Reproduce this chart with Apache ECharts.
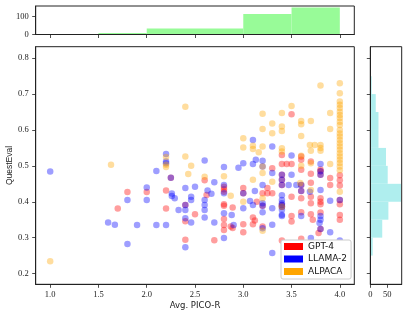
<!DOCTYPE html>
<html>
<head>
<meta charset="utf-8">
<script src="https://cdn.jsdelivr.net/npm/echarts@6.0.0/dist/echarts.min.js"></script>
<style>html,body{margin:0;padding:0;background:#fff;}#c{width:409px;height:322px;}</style>
</head>
<body>
<div id="c"></div>
<script>
// ---- data ----
const seriesNames = ['GPT-4', 'LLAMA-2', 'ALPACA'];
const gpt4 = [[2.25,0.467],[1.8,0.427],[2.0,0.427],[2.2,0.431],[1.7,0.381],[2.2,0.381],[2.4,0.391],[2.4,0.346],[2.4,0.294],[2.5,0.365],[2.6,0.46],[2.62,0.419],[2.7,0.293],[2.8,0.442],[2.8,0.435],[2.8,0.428],[2.8,0.393],[2.8,0.389],[2.8,0.352],[2.8,0.335],[2.8,0.321],[2.89,0.384],[2.87,0.331],[2.89,0.327],[3.0,0.438],[3.0,0.424],[3.0,0.337],[3.0,0.315],[3.1,0.356],[3.12,0.348],[3.1,0.337],[3.14,0.40],[3.2,0.424],[3.2,0.389],[3.2,0.331],[3.25,0.438],[3.25,0.424],[3.3,0.493],[3.3,0.424],[3.5,0.644],[3.4,0.53],[3.6,0.526],[3.6,0.517],[3.7,0.512],[3.4,0.505],[3.45,0.505],[3.5,0.505],[3.6,0.489],[3.8,0.49],[3.8,0.485],[3.8,0.475],[3.7,0.478],[4.0,0.474],[3.4,0.475],[3.4,0.461],[3.4,0.447],[3.6,0.447],[3.7,0.453],[3.9,0.447],[3.9,0.466],[4.0,0.46],[4.0,0.445],[3.6,0.43],[3.5,0.414],[3.4,0.391],[3.4,0.386],[3.6,0.41],[3.7,0.414],[3.8,0.41],[3.8,0.40],[3.8,0.393],[4.0,0.405],[3.6,0.371],[3.7,0.396],[4.0,0.393],[3.5,0.36],[3.5,0.345],[3.7,0.365],[3.72,0.35],[3.8,0.37],[4.0,0.363],[4.0,0.35],[3.8,0.324],[3.78,0.313],[3.4,0.292],[3.6,0.297]];
const llama2 = [[1.0,0.484],[2.2,0.533],[2.2,0.512],[2.2,0.507],[2.1,0.486],[2.25,0.467],[2.4,0.438],[2.0,0.44],[1.8,0.405],[2.0,0.405],[2.26,0.423],[2.26,0.416],[2.29,0.41],[2.33,0.377],[2.4,0.377],[2.4,0.391],[2.4,0.354],[1.6,0.342],[1.67,0.336],[1.9,0.335],[2.1,0.335],[2.2,0.335],[1.8,0.282],[2.4,0.273],[2.46,0.414],[2.46,0.405],[2.46,0.342],[2.5,0.442],[2.6,0.515],[2.6,0.405],[2.6,0.391],[2.6,0.377],[2.6,0.356],[2.63,0.431],[2.67,0.422],[2.7,0.454],[2.7,0.342],[2.8,0.497],[2.8,0.447],[2.8,0.424],[2.8,0.368],[2.8,0.299],[2.88,0.363],[2.9,0.335],[2.95,0.495],[3.0,0.507],[3.0,0.424],[3.0,0.382],[3.07,0.402],[3.1,0.572],[3.1,0.505],[3.12,0.43],[3.1,0.391],[3.13,0.517],[3.2,0.514],[3.2,0.498],[3.2,0.447],[3.2,0.396],[3.2,0.389],[3.2,0.371],[3.2,0.326],[3.3,0.554],[3.3,0.48],[3.3,0.382],[3.3,0.336],[3.3,0.257],[3.5,0.529],[3.8,0.505],[3.8,0.485],[3.8,0.475],[3.5,0.475],[3.4,0.475],[3.4,0.461],[3.4,0.447],[3.47,0.447],[3.55,0.447],[3.6,0.447],[3.8,0.433],[3.69,0.428],[3.4,0.418],[3.4,0.405],[3.4,0.396],[3.4,0.391],[3.4,0.386],[3.9,0.403],[4.0,0.405],[3.4,0.378],[3.4,0.364],[3.4,0.36],[3.6,0.36],[3.8,0.36],[3.8,0.35],[3.79,0.341],[3.8,0.324],[3.9,0.315],[3.7,0.299],[4.0,0.292],[3.6,0.43]];
const alpaca = [[2.4,0.665],[1.63,0.503],[2.2,0.525],[2.2,0.503],[2.2,0.497],[2.4,0.526],[1.0,0.234],[2.46,0.50],[2.43,0.477],[2.6,0.47],[2.8,0.471],[2.87,0.417],[3.0,0.577],[3.0,0.551],[3.0,0.40],[3.1,0.556],[3.1,0.547],[3.1,0.461],[3.16,0.538],[3.2,0.645],[3.2,0.603],[3.2,0.554],[3.2,0.498],[3.2,0.48],[3.2,0.41],[3.2,0.319],[3.3,0.591],[3.3,0.618],[3.3,0.456],[3.5,0.667],[3.4,0.647],[3.4,0.61],[3.4,0.597],[3.4,0.549],[3.4,0.54],[3.4,0.386],[3.6,0.625],[3.6,0.616],[3.6,0.583],[3.6,0.528],[3.6,0.50],[3.59,0.452],[3.7,0.625],[3.7,0.507],[3.69,0.558],[3.74,0.558],[3.8,0.558],[3.7,0.542],[3.8,0.542],[3.8,0.55],[3.8,0.724],[3.9,0.647],[3.9,0.603],[3.9,0.505],[3.7,0.433],[4.0,0.730],[4.0,0.702],[4.0,0.679],[4.0,0.670],[4.0,0.661],[4.0,0.651],[4.0,0.642],[4.0,0.633],[4.0,0.623],[4.0,0.614],[4.0,0.600],[4.0,0.590],[4.0,0.582],[4.0,0.572],[4.0,0.563],[4.0,0.554],[4.0,0.545],[4.0,0.535],[4.0,0.526],[4.0,0.517],[4.0,0.508],[4.0,0.498],[4.0,0.488],[4.0,0.428]];

// marginal histogram of Avg. PICO-R (bin edges and counts)
const topBinEdges = [1.0, 1.5, 2.0, 2.5, 3.0, 3.5, 4.0];
const topCounts = [1, 8, 34, 34, 115, 152];
// marginal histogram of QuestEval
const rightBinEdges = [0.20, 0.25, 0.30, 0.35, 0.40, 0.45, 0.50, 0.55, 0.60, 0.65, 0.70, 0.75];
const rightCounts = [1, 7, 35, 53, 90, 51, 46, 24, 24, 16, 4];

// tick labels
const xTicks = [1.0, 1.5, 2.0, 2.5, 3.0, 3.5, 4.0];
const yTicks = [0.2, 0.3, 0.4, 0.5, 0.6, 0.7, 0.8];
const topYTicks = [0, 100];
const rightXTicks = [0, 50];

// ---- chart ----
const colors = ['#ff0000', '#0000ff', '#ffa500'];
const serifFont = 'Liberation Serif';
const lineColor = '#222';
const tickLabel = {fontFamily: serifFont, fontSize: 8.5, color: '#222'};

const topData = topCounts.map((c, i) => [topBinEdges[i], topBinEdges[i + 1], c]);
const rightData = rightCounts.map((c, i) => [rightBinEdges[i], rightBinEdges[i + 1], c]);

const chart = echarts.init(document.getElementById('c'), null, {renderer: 'canvas'});

function axisBase(extra) {
  return Object.assign({
    type: 'value',
    splitLine: {show: false},
    axisLine: {show: true, onZero: false, lineStyle: {color: lineColor, width: 1}},
    axisTick: {show: true, inside: false, length: 3.5, lineStyle: {color: lineColor, width: 0.8}},
    nameMoveOverlap: false,
    z: 5
  }, extra);
}

const gridBase = {show: true, borderColor: lineColor, borderWidth: 1, backgroundColor: 'transparent',
  containLabel: false, outerBoundsMode: 'none'};

const option = {
  animation: false,
  backgroundColor: '#fff',
  grid: [
    Object.assign({left: 35.7, top: 46.7, width: 318.6, height: 237.6}, gridBase),
    Object.assign({left: 35.7, top: 6, width: 318.6, height: 28.5}, gridBase),
    Object.assign({left: 370.3, top: 46.7, width: 31.4, height: 237.6}, gridBase)
  ],
  xAxis: [
    axisBase({gridIndex: 0, min: 0.85, max: 4.15,
      name: 'Avg. PICO-R', nameLocation: 'middle', nameGap: 17,
      nameTextStyle: {fontFamily: 'DejaVu Sans', fontSize: 8.5, color: '#222'},
      axisTick: {show: true, length: 3.5, customValues: xTicks, lineStyle: {color: lineColor, width: 0.8}},
      axisLabel: Object.assign({customValues: xTicks, margin: 6, formatter: v => Number(v).toFixed(1)}, tickLabel)}),
    axisBase({gridIndex: 1, min: 0.85, max: 4.15,
      axisTick: {show: true, length: 3.5, customValues: xTicks, lineStyle: {color: lineColor, width: 0.8}},
      axisLabel: {show: false}}),
    axisBase({gridIndex: 2, min: 0, max: 92,
      axisTick: {show: true, length: 3.5, customValues: rightXTicks, lineStyle: {color: lineColor, width: 0.8}},
      axisLabel: Object.assign({customValues: rightXTicks, margin: 6, formatter: v => String(Math.round(v))}, tickLabel)})
  ],
  yAxis: [
    axisBase({gridIndex: 0, min: 0.17, max: 0.832,
      name: 'QuestEval', nameLocation: 'middle', nameGap: 22, nameRotate: 90,
      nameTextStyle: {fontFamily: 'Liberation Sans', fontSize: 8.5, color: '#222'},
      axisTick: {show: true, length: 3.5, customValues: yTicks, lineStyle: {color: lineColor, width: 0.8}},
      axisLabel: Object.assign({customValues: yTicks, margin: 7, formatter: v => Number(v).toFixed(1)}, tickLabel)}),
    axisBase({gridIndex: 1, min: 0, max: 160,
      axisTick: {show: true, length: 3.5, customValues: topYTicks, lineStyle: {color: lineColor, width: 0.8}},
      axisLabel: Object.assign({customValues: topYTicks, margin: 7, formatter: v => String(Math.round(v))}, tickLabel)}),
    axisBase({gridIndex: 2, min: 0.17, max: 0.832,
      axisTick: {show: true, length: 3.5, customValues: yTicks, lineStyle: {color: lineColor, width: 0.8}},
      axisLabel: {show: false}})
  ],
  legend: {
    orient: 'vertical', left: 281, top: 240,
    itemWidth: 19, itemHeight: 7, itemGap: 1.5,
    padding: [1, 4, 2, 3],
    backgroundColor: '#fff', borderColor: '#cccccc', borderWidth: 1, borderRadius: 2,
    icon: 'rect',
    textStyle: {fontFamily: 'DejaVu Sans', fontSize: 9, color: '#111', lineHeight: 11},
    itemStyle: {opacity: 1},
    data: seriesNames.map((n, i) => ({name: n, icon: 'rect', itemStyle: {color: colors[i], opacity: 1}}))
  },
  series: [
    ...[gpt4, llama2, alpaca].map((d, i) => ({
      name: seriesNames[i], type: 'scatter', xAxisIndex: 0, yAxisIndex: 0,
      data: d, symbol: 'circle', symbolSize: 6.5,
      itemStyle: {color: colors[i], opacity: 0.38},
      emphasis: {disabled: true}, z: 2
    })),
    {
      type: 'custom', xAxisIndex: 1, yAxisIndex: 1, data: topData,
      encode: {x: [0, 1], y: 2}, silent: true, z: 1,
      renderItem: function (params, api) {
        const p0 = api.coord([api.value(0), 0]);
        const p1 = api.coord([api.value(1), api.value(2)]);
        return {type: 'rect', shape: {x: p0[0], y: p1[1], width: p1[0] - p0[0], height: p0[1] - p1[1]},
          style: {fill: '#98fb98'}};
      }
    },
    {
      type: 'custom', xAxisIndex: 2, yAxisIndex: 2, data: rightData,
      encode: {y: [0, 1], x: 2}, silent: true, z: 1,
      renderItem: function (params, api) {
        const p0 = api.coord([0, api.value(0)]);
        const p1 = api.coord([api.value(2), api.value(1)]);
        return {type: 'rect', shape: {x: p0[0], y: p1[1], width: p1[0] - p0[0], height: p0[1] - p1[1]},
          style: {fill: '#afeeee'}};
      }
    }
  ]
};
chart.setOption(option);
</script>
</body>
</html>
